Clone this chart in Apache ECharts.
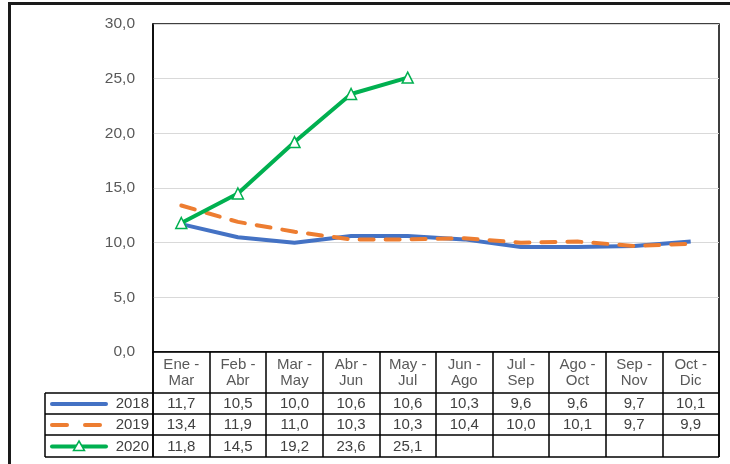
<!DOCTYPE html>
<html>
<head>
<meta charset="utf-8">
<script src="https://cdn.jsdelivr.net/npm/echarts@6/dist/echarts.min.js"></script>
<style>html,body{margin:0;padding:0;background:#fff}#c{width:730px;height:464px}</style>
</head>
<body>
<div id="c"></div>
<script>
var categories = ['Ene -\nMar','Feb -\nAbr','Mar -\nMay','Abr -\nJun','May -\nJul','Jun -\nAgo','Jul -\nSep','Ago -\nOct','Sep -\nNov','Oct -\nDic'];
var seriesNames = ['2018','2019','2020'];
var v2018 = [11.7,10.5,10.0,10.6,10.6,10.3,9.6,9.6,9.7,10.1];
var v2019 = [13.4,11.9,11.0,10.3,10.3,10.4,10.0,10.1,9.7,9.9];
var v2020 = [11.8,14.5,19.2,23.6,25.1];
var yTicks = [0,5,10,15,20,25,30];

var colors = ['#4472C4','#ED7D31','#00B050'];
var font = '"Liberation Sans", Arial, sans-serif';
function fmt(v){ return v.toFixed(1).replace('.', ','); }

var chart = echarts.init(document.getElementById('c'), null, {renderer:'canvas'});
var gridL = 153, gridR = 719, gridT = 24, gridB = 352;
chart.setOption({
  animation:false,
  grid:{left:gridL, right:730-gridR, top:gridT, bottom:464-gridB, show:true, borderColor:'#000', borderWidth:1.5},
  xAxis:{type:'category', data:categories, boundaryGap:true,
    axisLine:{lineStyle:{color:'#000', width:1.5}},
    axisTick:{show:true, interval:0, length:105, lineStyle:{color:'#000', width:1.5}},
    axisLabel:{interval:0, color:'#595959', fontSize:15, fontFamily:font, lineHeight:16, margin:5}
  },
  yAxis:{type:'value', min:yTicks[0], max:yTicks[yTicks.length-1], interval:5,
    axisLine:{show:true, lineStyle:{color:'#000', width:1.5}},
    axisTick:{show:false},
    splitLine:{lineStyle:{color:'#d9d9d9', width:1}},
    axisLabel:{color:'#595959', fontSize:15.5, fontFamily:font, margin:18, formatter:function(v){return fmt(v);}}
  },
  series:[
    {name:seriesNames[0], type:'line', data:v2018, symbol:'none', lineStyle:{color:colors[0], width:4}, z:2},
    {name:seriesNames[1], type:'line', data:v2019, symbol:'none', lineStyle:{color:colors[1], width:4, type:[14,12], cap:'round'}, z:3},
    {name:seriesNames[2], type:'line', data:v2020, symbol:'triangle', symbolSize:11,
      lineStyle:{color:colors[2], width:4}, itemStyle:{color:'#fff', borderColor:colors[2], borderWidth:1.5}, z:4}
  ]
});

// Data table under the plot
var rowLines = [393, 414, 435, 457];
var tableLeft = 45;
var g = [];
g.push({type:'rect', shape:{x:9.5, y:3.5, width:760, height:500}, style:{fill:'none', stroke:'#1a1a1a', lineWidth:3}, silent:true});
rowLines.forEach(function(y){
  g.push({type:'line', shape:{x1:tableLeft, y1:y, x2:gridR, y2:y}, style:{stroke:'#000', lineWidth:1.5}});
});
g.push({type:'line', shape:{x1:tableLeft, y1:rowLines[0], x2:tableLeft, y2:rowLines[3]}, style:{stroke:'#000', lineWidth:1.5}});
g.push({type:'line', shape:{x1:gridL, y1:gridB, x2:gridL, y2:rowLines[3]}, style:{stroke:'#000', lineWidth:1.5}});
g.push({type:'line', shape:{x1:gridR, y1:gridB, x2:gridR, y2:rowLines[3]}, style:{stroke:'#000', lineWidth:1.5}});

var rows = [v2018, v2019, v2020];
rows.forEach(function(vals, r){
  var cy = (rowLines[r] + rowLines[r+1]) / 2 + 0.5;
  // legend key
  g.push({type:'text', style:{text:seriesNames[r], x:149, y:cy, align:'right', verticalAlign:'middle', fill:'#404040', font:'15px '+font}});
  if (r === 0) {
    g.push({type:'line', shape:{x1:52, y1:cy, x2:106, y2:cy}, style:{stroke:colors[0], lineWidth:4, lineCap:'round'}});
  } else if (r === 1) {
    g.push({type:'line', shape:{x1:52, y1:cy, x2:67, y2:cy}, style:{stroke:colors[1], lineWidth:4, lineCap:'round'}});
    g.push({type:'line', shape:{x1:85, y1:cy, x2:100, y2:cy}, style:{stroke:colors[1], lineWidth:4, lineCap:'round'}});
  } else {
    g.push({type:'line', shape:{x1:52, y1:cy, x2:106, y2:cy}, style:{stroke:colors[2], lineWidth:4, lineCap:'round'}});
    g.push({type:'polygon', shape:{points:[[79,cy-5.5],[84.5,cy+4],[73.5,cy+4]]}, style:{fill:'#fff', stroke:colors[2], lineWidth:1.5}});
  }
  vals.forEach(function(v, i){
    var x = chart.convertToPixel({xAxisIndex:0}, i);
    g.push({type:'text', style:{text:fmt(v), x:x, y:cy, align:'center', verticalAlign:'middle', fill:'#404040', font:'15px '+font}});
  });
});
chart.setOption({graphic:g});
</script>
</body>
</html>
